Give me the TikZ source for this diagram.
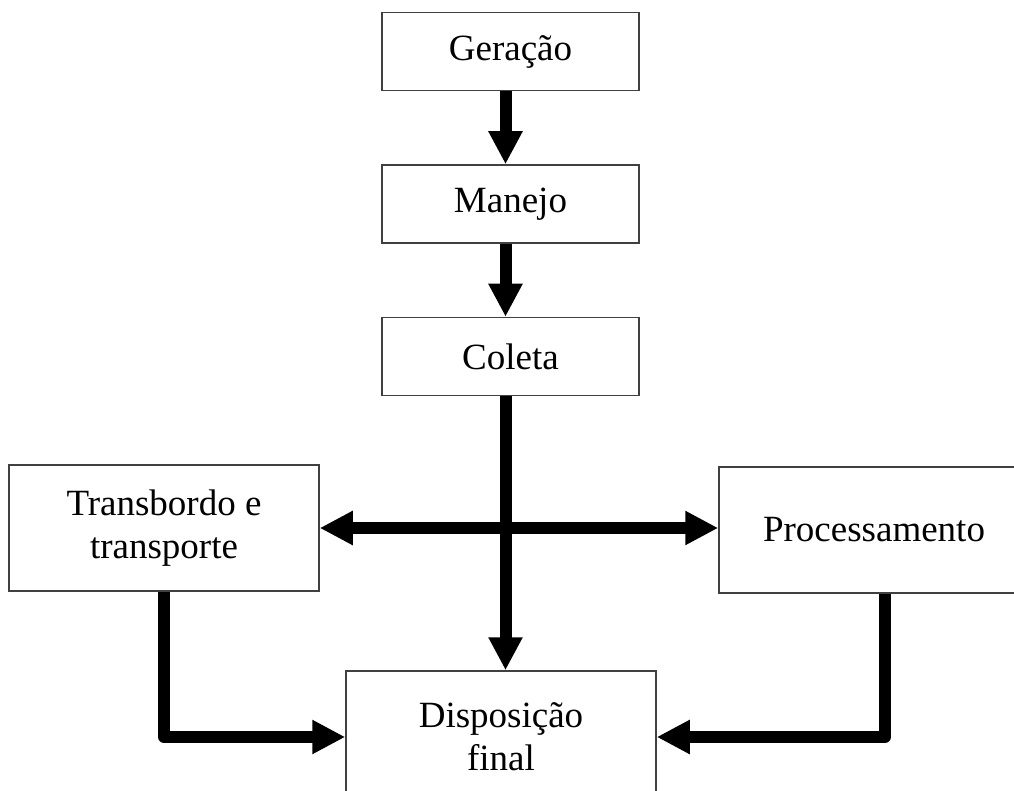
\documentclass[tikz,border=0pt]{standalone}
\usepackage{fontspec}
\setmainfont{Liberation Serif}
\usetikzlibrary{arrows.meta, positioning}

\begin{document}
\begin{tikzpicture}[
    x=1pt, y=-1pt,
    node distance=73pt,
    box/.style={draw=black!75, line width=1.5pt, minimum width=257pt, minimum height=78pt, align=center, inner sep=0pt, font=\fontsize{37}{43}\selectfont},
    widebox/.style={box, minimum width=310pt, minimum height=126pt},
    arrow/.style={-{Triangle[length=33pt, width=32pt]}, line width=12pt, line join=round},
    dblarrow/.style={{Triangle[length=33pt, width=32pt]}-{Triangle[length=33pt, width=32pt]}, line width=12pt},
]
\useasboundingbox (0,0) rectangle (1014,791);
\clip (0,0) rectangle (1014,791);

% Main chain
\node[box] (gera) at (510.5,51.5) {Geração};
\node[box, below=of gera] (manejo) {Manejo};
\node[box, below=of manejo] (coleta) {Coleta};

% Side boxes and final box
\node[widebox] (transb) at (164,528) {Transbordo e\\transporte};
\node[widebox] (proc) at (874,530) {Processamento};
\node[widebox, minimum height=132pt] (disp) at (501,737) {Disposição\\final};

% Arrows
\draw[arrow] ([xshift=-5pt]gera.south) -- ([xshift=-5pt]manejo.north);
\draw[arrow] ([xshift=-5pt]manejo.south) -- ([xshift=-5pt]coleta.north);
\draw[arrow] ([xshift=-5pt]coleta.south) -- ([xshift=-5pt]coleta.south |- disp.north);
\draw[dblarrow] (transb.east) -- (transb.east -| proc.west);
\draw[arrow] (transb.south) |- (disp.west);
\draw[arrow] ([xshift=11pt]proc.south) |- (disp.east);

\end{tikzpicture}
\end{document}
